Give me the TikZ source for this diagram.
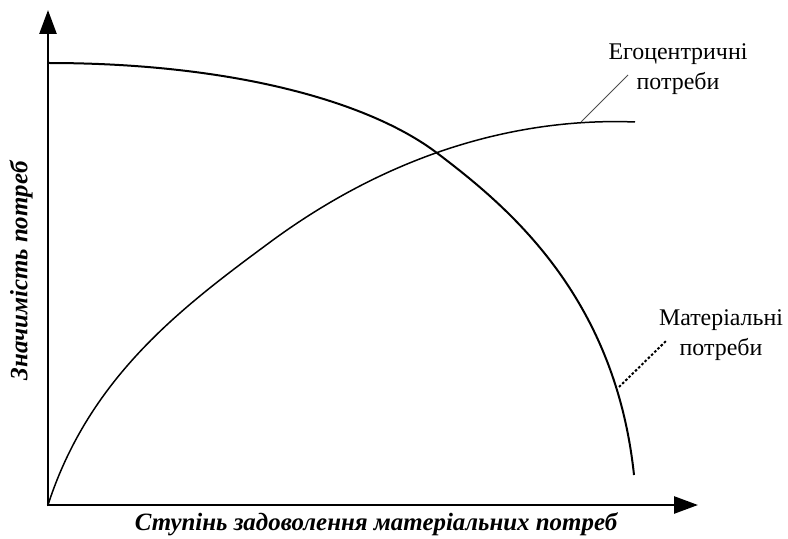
\documentclass[tikz,border=0pt]{standalone}
\usepackage{fontspec}
\setmainfont{Liberation Serif}
\usetikzlibrary{arrows.meta}

\tikzset{
  axis/.style={line width=2.6bp, -{Triangle[length=24bp, width=17bp]}},
  curve/.style={line width=2bp},
  thincurve/.style={line width=1.5bp},
  leader/.style={draw=black!70, line width=0.8bp},
  dotleader/.style={line width=2bp, dash pattern=on 2.5bp off 2bp},
  lbl/.style={align=center, font=\fontsize{24}{30}\selectfont, inner sep=0pt},
  axlabel/.style={font=\fontsize{25}{30}\selectfont\bfseries\itshape, inner sep=0pt}
}

\begin{document}
\begin{tikzpicture}[x=1bp, y=-1bp]
  \useasboundingbox (0,0) rectangle (788,539);

  % axes
  \coordinate (o) at (48,505);
  \draw[axis] (48,506.3) -- (48,10);
  \draw[axis] (46.7,505) -- (698,505);

  % material needs
  \draw[curve] (48,63) .. controls (228,63) and (367,100) .. (437,153)
    .. controls (507,206) and (615,295) .. (634,475);

  % egocentric needs
  \draw[thincurve] (o) .. controls (90,375) and (185,305) .. (273,240)
    .. controls (423,130.5) and (560,119) .. (635,122);

  % labels
  \node[lbl] (ego) at (678,69) {Егоцентричні\\потреби};
  \node[lbl] (mat) at (721,335) {Матеріальні\\потреби};
  \coordinate (egoTouch) at (581,122);
  \coordinate (egoEnd) at (628,75);
  \coordinate (matTouch) at (619,387);
  \coordinate (matEnd) at (667,340);
  \draw[leader] (egoTouch) -- (egoEnd);
  \draw[dotleader] (matTouch) -- (matEnd);

  \node[axlabel, rotate=90] (ylab) at (21,271) {Значимість потреб};
  \node[axlabel] (xlab) at (376,524) {Ступінь задоволення матеріальних потреб};
\end{tikzpicture}
\end{document}
